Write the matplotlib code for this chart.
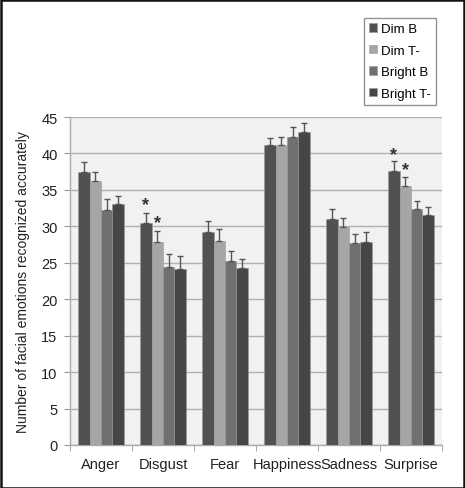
import matplotlib
matplotlib.use("Agg")
import matplotlib.pyplot as plt
import numpy as np
from matplotlib.patches import Rectangle

plt.rcParams['font.family'] = ['Liberation Sans', 'DejaVu Sans']

categories = ["Anger", "Disgust", "Fear", "Happiness", "Sadness", "Surprise"]
series = ["Dim B", "Dim T-", "Bright B", "Bright T-"]
dim_b = [37.5, 30.4, 29.2, 41.1, 31.0, 37.6]
dim_t = [36.2, 27.8, 28.0, 41.2, 29.9, 35.5]
bright_b = [32.3, 24.4, 25.3, 42.3, 27.7, 32.4]
bright_t = [33.0, 24.2, 24.3, 43.0, 27.9, 31.6]
err_dim_b = [1.3, 1.4, 1.6, 1.0, 1.4, 1.3]
err_dim_t = [1.2, 1.5, 1.6, 1.0, 1.3, 1.2]
err_bright_b = [1.4, 1.8, 1.3, 1.3, 1.2, 1.1]
err_bright_t = [1.2, 1.7, 1.2, 1.2, 1.3, 1.1]
# significance markers: (category index, series index, y)
stars = [(1, 0, 33.0), (1, 1, 30.5), (5, 0, 39.9), (5, 1, 37.8)]

values = [dim_b, dim_t, bright_b, bright_t]
errors = [err_dim_b, err_dim_t, err_bright_b, err_bright_t]
colors = ["#515151", "#a6a6a6", "#707070", "#464646"]

W, H = 465, 489
fig = plt.figure(figsize=(W / 100, H / 100), dpi=100)
ax = fig.add_axes([70 / W, 43 / H, 372 / W, 328 / H])
ax.set_facecolor("#f1f1f1")

x = np.arange(len(categories))
bw = 0.185
for i, (vals, errs, c, lab) in enumerate(zip(values, errors, colors, series)):
    pos = x + (i - 1.5) * bw
    ax.bar(pos, vals, width=bw, color=c, edgecolor="#9a9a9a", linewidth=0.4,
           label=lab, zorder=3)
    ax.errorbar(pos, vals, yerr=[np.zeros(len(vals)), errs], fmt="none",
                ecolor="#555555", elinewidth=1.0, capsize=2.5, capthick=1.0,
                zorder=4)

for ci, si, yv in stars:
    ax.text(x[ci] + (si - 1.5) * bw, yv, "*", ha="center", va="center",
            fontsize=13, fontweight="bold", color="#333333", zorder=5)

ax.set_xlim(-0.5, len(categories) - 0.5)
ax.set_ylim(0, 45)
ax.set_yticks(np.arange(0, 46, 5))
ax.yaxis.grid(True, color="#b0b0b0", linewidth=1.0, zorder=0)
ax.set_axisbelow(True)

ax.set_xticks(x)
ax.set_xticklabels(categories, fontsize=10.5, color="#222222")
ax.tick_params(axis="x", length=0, pad=9)
ax.set_xticks(np.arange(-0.5, len(categories), 1), minor=True)
ax.tick_params(axis="x", which="minor", length=4, color="#999999")
ax.tick_params(axis="y", length=4, color="#999999", labelsize=10.5,
               labelcolor="#222222", pad=5)

for s in ["top", "right"]:
    ax.spines[s].set_visible(False)
for s in ["left", "bottom"]:
    ax.spines[s].set_color("#aaaaaa")
    ax.spines[s].set_linewidth(1.0)

ax.set_ylabel("Number of facial emotions recognized accurately", fontsize=10,
              color="#222222", labelpad=8)

leg = fig.legend(loc="upper left", bbox_to_anchor=(364 / W, 1 - 19 / H),
                 bbox_transform=fig.transFigure, fontsize=9.5, frameon=True,
                 fancybox=False, edgecolor="#777777", handlelength=0.6,
                 handleheight=0.6, handletextpad=0.3, labelspacing=0.72,
                 borderpad=0.4, borderaxespad=0)
leg.get_frame().set_linewidth(1.0)

fig.patches.append(Rectangle((0.5 / W, 0.5 / H), 1 - 1.5 / W, 1 - 1.5 / H,
                             transform=fig.transFigure, fill=False,
                             edgecolor="#111111", linewidth=1.8))

fig.savefig("out.png", dpi=100)
